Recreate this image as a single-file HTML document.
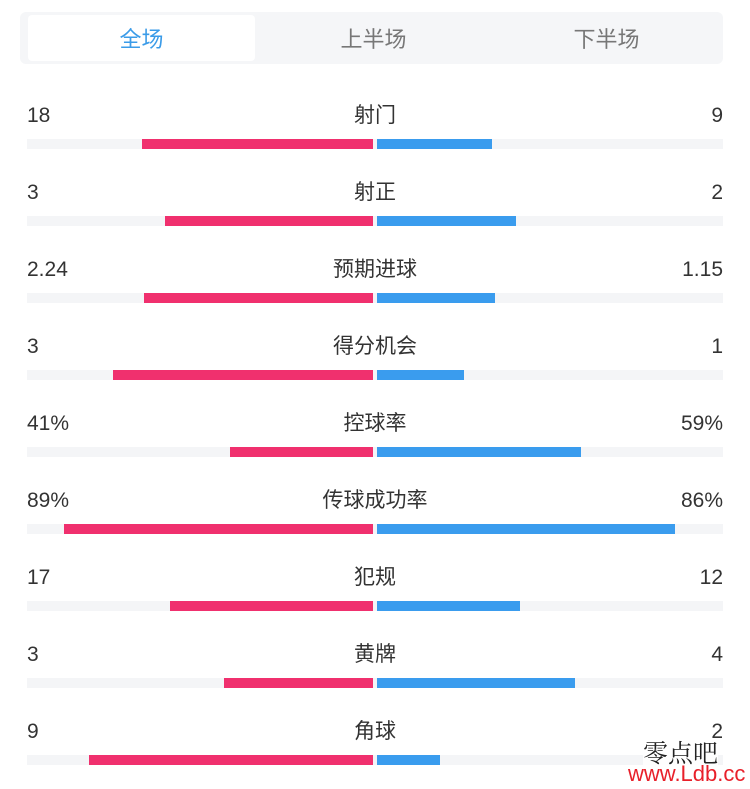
<!DOCTYPE html><html><head><meta charset="utf-8"><style>
body{margin:0;width:750px;height:789px;background:#fff;position:relative;overflow:hidden;font-family:"Liberation Sans","Noto Sans CJK SC",sans-serif;color:#333}
.tabs{position:absolute;left:20px;top:12px;width:703px;height:52px;background:#f5f6f8;border-radius:6px}
.tab{position:absolute;top:3px;height:46px;line-height:50px;text-align:center;font-size:22px;color:#777}
.t{position:absolute;font-size:21px;line-height:24px}
.track{position:absolute;left:27px;width:696px;height:10px;background:#f4f5f7}
.r{position:absolute;height:10px;background:#f0306e}
.b{position:absolute;height:10px;background:#3a9cee}
</style></head><body>
<div class="tabs">
<div class="tab" style="left:8px;width:227px;background:#fff;color:#3a9be8;border-radius:4px">全场</div>
<div class="tab" style="left:237px;width:233px">上半场</div>
<div class="tab" style="left:470px;width:233px">下半场</div>
</div>
<div id="rows"></div>
<script>
var d=[["18","射门","9",142,492],["3","射正","2",165,516],["2.24","预期进球","1.15",144,495],["3","得分机会","1",113,464],["41%","控球率","59%",230,581],["89%","传球成功率","86%",64,675],["17","犯规","12",170,520],["3","黄牌","4",224,575],["9","角球","2",89,440]];
var h="";d.forEach(function(r,i){var ty=104+i*77,by=139+i*77;
h+='<div class="t" style="left:27px;top:'+ty+'px">'+r[0]+'</div>';
h+='<div class="t" style="left:275px;width:200px;text-align:center;top:'+ty+'px">'+r[1]+'</div>';
h+='<div class="t" style="right:27px;top:'+ty+'px">'+r[2]+'</div>';
h+='<div class="track" style="top:'+by+'px"></div>';
h+='<div class="r" style="top:'+by+'px;left:'+r[3]+'px;width:'+(373-r[3])+'px"></div>';
h+='<div class="b" style="top:'+by+'px;left:377px;width:'+(r[4]-377)+'px"></div>';});
document.getElementById("rows").innerHTML=h;
</script>
<div class="t" style="left:643px;top:738px;font-family:'Noto Serif CJK SC',serif;font-size:25px;line-height:28px;color:#222;background:rgba(255,255,255,0.85)">零点吧</div>
<div class="t" style="left:628px;top:762px;font-size:22px;color:#e8202a">www.Ldb.cc</div>
</body></html>
